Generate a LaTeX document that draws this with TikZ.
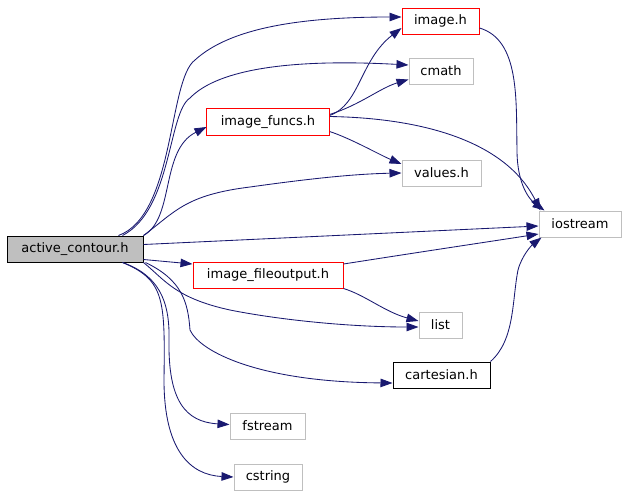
\documentclass[tikz,border=0pt]{standalone}
\usepackage{fontspec}
\setmainfont{DejaVu Sans}
\usetikzlibrary{arrows.meta}
\definecolor{edgeblue}{RGB}{25,25,112}
\definecolor{boxgray}{RGB}{191,191,191}
\definecolor{boxred}{RGB}{255,0,0}
\tikzset{
	filebox/.style={draw,rectangle,minimum height=26pt,inner sep=0pt,line width=1pt,font=\fontsize{13}{15}\selectfont},
	redbox/.style={filebox,draw=boxred},
	graybox/.style={filebox,draw=boxgray},
	dep/.style={draw=edgeblue,line width=0.85pt,-{Triangle[length=12pt,width=8.5pt]}}
}
\begin{document}
\begin{tikzpicture}[x=1pt,y=-1pt]
			\useasboundingbox (0,0) rectangle (628,498);
			%Main file
			\node[filebox,fill=boxgray,minimum width=136pt] (active) at (75,249) {active\_contour.h};
			%Project headers
			\node[redbox,draw=none,minimum width=122pt] (funcs) at (268,122) {image\_funcs.h};
			\node[redbox,minimum width=77pt] (image) at (440.5,21) {image.h};
			\node[redbox,minimum width=150pt] (fileout) at (268,275) {image\_fileoutput.h};
			\node[filebox,minimum width=97pt] (cart) at (441.5,375) {cartesian.h};
			%System headers
			\foreach \name/\txt/\x/\y/\w in {cmath/cmath/441/71/64,values/values.h/441.5/173/79,iostream/iostream/580/224/82,list/list/440.5/325/43,fstream/fstream/267.5/426/75,cstring/cstring/268/477/68}
				{
					\node[graybox,minimum width=\w pt] (\name) at (\x,\y) {\txt};
				}
			%Edges from active_contour.h
			\draw[dep] ([xshift=-25pt]active.north east) .. controls (175,215) and (168,80) .. (195,60) .. controls (230,28) and (300,17) .. ([yshift=4pt]image.west);
			\draw[dep] ([xshift=-21pt]active.north east) .. controls (172,210) and (168,112) .. (190,98) .. controls (215,72) and (280,58) .. ([yshift=6pt]cmath.west);
			\draw[dep] (active.north east) .. controls (175,218) and (160,150) .. ([yshift=-5pt]funcs.west);
			\draw[dep] (active.north east) .. controls (175,212) and (185,195) .. (250,187) .. controls (300,180) and (350,174) .. (values.west);
			\draw[dep] ([yshift=-9pt]active.north east) -- ([yshift=-2pt]iostream.west);
			\draw[dep] ([yshift=3pt]active.south east) -- ([yshift=11pt]fileout.west);
			\draw[dep] (active.south east) .. controls (165,280) and (175,298) .. (230,310) .. controls (280,320) and (350,327) .. ([yshift=-2pt]list.west);
			\draw[dep] ([xshift=2pt]active.south east) .. controls (182,280) and (188,302) .. (190,330) .. controls (200,352) and (260,382) .. ([yshift=-8pt]cart.west);
			\draw[dep] ([xshift=-21pt]active.south east) .. controls (158,275) and (170,300) .. (169,340) .. controls (168,400) and (185,422) .. ([yshift=1.5pt]fstream.west);
			\draw[dep] ([xshift=-21pt]active.south east) .. controls (165,280) and (165,300) .. (164,380) .. controls (164,450) and (190,475) .. (cstring.west);
			%Edges from image_funcs.h
			\draw[dep] ([yshift=6.5pt]funcs.east) .. controls (360,105) and (360,60) .. ([yshift=-7pt]image.west);
			\draw[dep] ([yshift=7.5pt]funcs.east) .. controls (360,105) and (380,88) .. ([yshift=-8.5pt]cmath.west);
			\draw[dep] ([yshift=5.5pt]funcs.east) .. controls (420,118) and (505,140) .. ([xshift=2pt]iostream.north west);
			\draw[dep] ([yshift=-9.5pt]funcs.east) .. controls (350,138) and (380,155) .. ([yshift=9pt]values.west);
			%Edges to iostream and list
			\draw[dep] ([yshift=-7pt]image.east) .. controls (520,40) and (516,100) .. (517,150) .. controls (517,185) and (530,200) .. ([xshift=6pt]iostream.north west);
			\draw[dep] ([yshift=11pt]fileout.east) .. controls (420,252) and (500,240) .. ([yshift=-10pt]iostream.west);
			\draw[dep] (fileout.south east) .. controls (365,295) and (385,312) .. ([yshift=4pt]list.west);
			\draw[dep] (cart.north east) .. controls (515,340) and (512,300) .. (518,270) .. controls (522,255) and (532,245) .. ([xshift=3pt]iostream.south west);
			%Border of image_funcs.h
			\draw[draw=boxred,line width=1pt] (funcs.south west) rectangle (funcs.north east);
		\end{tikzpicture}
\end{document}
